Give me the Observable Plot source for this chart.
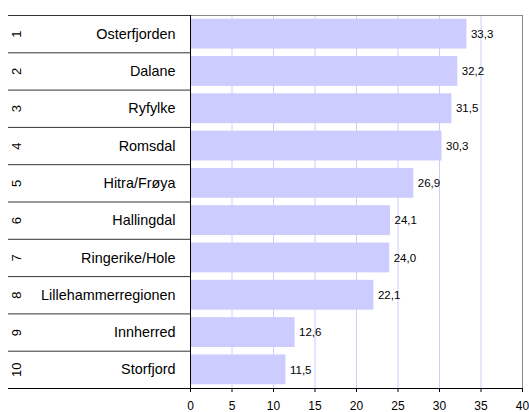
<!DOCTYPE html>
<html>
<head>
<meta charset="utf-8">
<script src="https://cdn.jsdelivr.net/npm/d3@7"></script>
<script src="https://cdn.jsdelivr.net/npm/@observablehq/plot@0.6"></script>
<style>
  html, body { margin: 0; padding: 0; background: white; }
</style>
</head>
<body>
<div id="chart"></div>
<script>
const ranks = [1, 2, 3, 4, 5, 6, 7, 8, 9, 10];
const names = ["Osterfjorden", "Dalane", "Ryfylke", "Romsdal", "Hitra/Frøya", "Hallingdal", "Ringerike/Hole", "Lillehammerregionen", "Innherred", "Storfjord"];
const values = [33.3, 32.2, 31.5, 30.3, 26.9, 24.1, 24.0, 22.1, 12.6, 11.5];
const xTicks = [0, 5, 10, 15, 20, 25, 30, 35, 40];

const data = ranks.map((r, i) => ({rank: r, name: names[i], value: values[i]}));
const boundaries = ranks.map(r => r - 0.5);
const lastBoundary = [ranks[ranks.length - 1] + 0.5];
const firstBoundary = [ranks[0] - 0.5];

const W = 529, H = 412;
const mL = 190, mR = 7, mT = 15, mB = 24;
const tableLeft = 8;
const plotW = W - mL - mR;

const chart = Plot.plot({
  width: W,
  height: H,
  marginLeft: mL,
  marginRight: mR,
  marginTop: mT,
  marginBottom: mB,
  style: {fontFamily: "'Liberation Sans', Arial, sans-serif", fontSize: "12px", background: "white", color: "black"},
  x: {domain: [0, 40], ticks: xTicks, tickSize: 4, tickPadding: 9, tickFormat: d => String(d), label: null},
  y: {domain: [10.5, 0.5], axis: null},
  marks: [
    Plot.ruleX(xTicks.slice(1, -1), {stroke: "#ccccff"}),
    Plot.rectX(data, {x1: 0, x2: "value", y1: d => d.rank - 0.4, y2: d => d.rank + 0.4, fill: "#ccccff"}),
    Plot.ruleY(firstBoundary, {stroke: "#888888"}),
    Plot.ruleX([xTicks[xTicks.length - 1]], {stroke: "#888888"}),
    Plot.ruleY(boundaries, {stroke: "#333333", insetLeft: -(mL - tableLeft), insetRight: plotW}),
    Plot.ruleY(lastBoundary, {stroke: "black", insetLeft: -(mL - tableLeft)}),
    Plot.ruleX([0], {stroke: "black"}),
    Plot.text(data, {y: "rank", text: d => String(d.rank), frameAnchor: "left", textAnchor: "middle", dx: -(mL - 16), rotate: -90, fontSize: 13, fill: "black"}),
    Plot.text(data, {y: "rank", text: "name", frameAnchor: "left", dx: -15, textAnchor: "end", fontSize: 14.4, fill: "black"}),
    Plot.text(data, {x: "value", y: "rank", text: d => d.value.toFixed(1).replace(".", ","), dx: 4, textAnchor: "start", fontSize: 11.5, fill: "black"})
  ]
});
document.getElementById("chart").appendChild(chart);
</script>
</body>
</html>
